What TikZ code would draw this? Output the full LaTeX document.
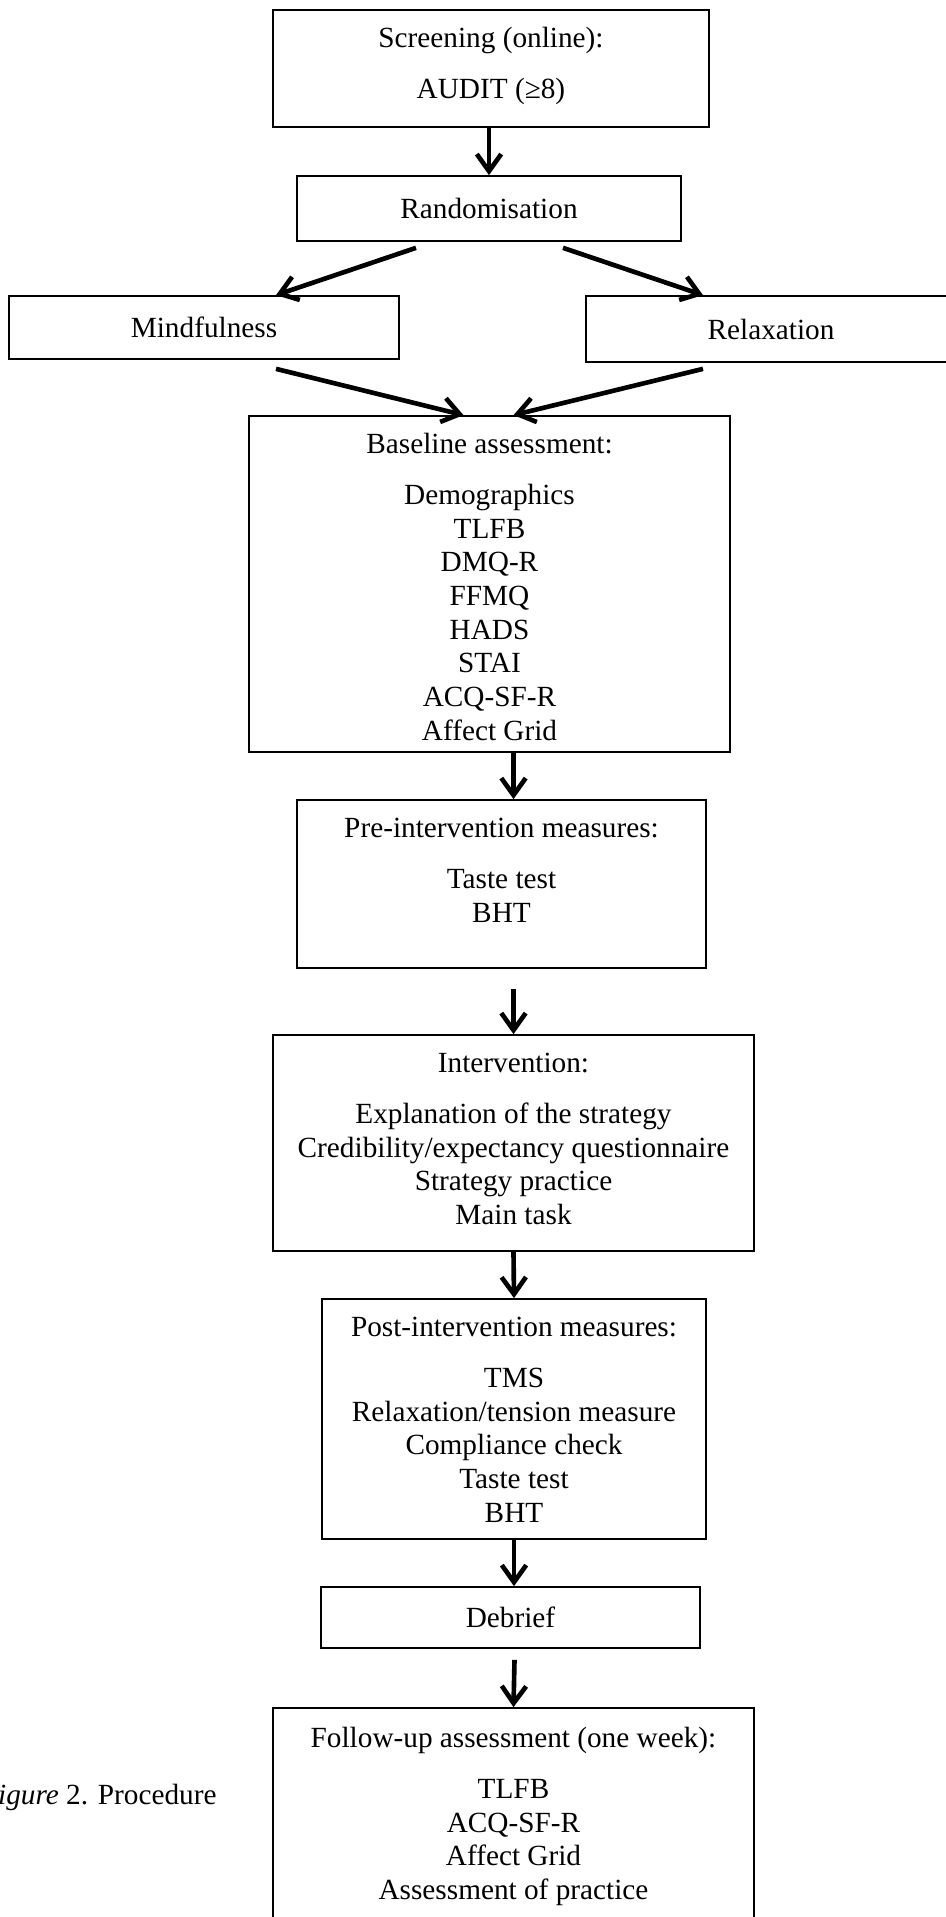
\documentclass[tikz,border=0pt]{standalone}
\usepackage{fontspec}
\setmainfont{Liberation Serif}
\usetikzlibrary{arrows.meta,fit}

\begin{document}
\begin{tikzpicture}[x=0.41pt, y=-0.41pt,
    box/.style={draw, line width=0.7pt, inner sep=0pt},
    txt/.style={align=center, inner sep=0pt, font=\fontsize{12}{13.8}\selectfont},
    arr/.style={line width=1.9pt, -{Straight Barb[length=7pt, width=10pt]}}]


          \useasboundingbox (0,0) rectangle (946,1917);

          \node[box, fit={(273,10) (709,127)}] (screen) {};
          \node[box, fit={(297,176) (681,241)}] (rand) {};
          \node[box, fit={(9,296) (399,359)}] (mind) {};
          \node[box, fit={(586,296) (956,362)}] (relax) {};
          \node[box, fit={(249,416) (730,752)}] (base) {};
          \node[box, fit={(297,800) (706,968)}] (pre) {};
          \node[box, fit={(273,1035) (754,1251)}] (int) {};
          \node[box, fit={(322,1299) (706,1539)}] (post) {};
          \node[box, fit={(321,1587) (700,1648)}] (deb) {};
          \node[box, fit={(273,1708) (754,1925)}] (fol) {};

          \node[txt, anchor=north] (screen-t) at (491,27) {Screening (online):\\[7pt] AUDIT (≥8)};
          \node[txt] (rand-t) at (rand.center) {Randomisation};
          \node[txt] (mind-t) at (mind.center) {Mindfulness};
          \node[txt] (relax-t) at (relax.center) {Relaxation};
          \node[txt, anchor=north] (base-t) at (489.5,433) {Baseline assessment:\\[7pt] Demographics\\ TLFB\\ DMQ-R\\ FFMQ\\ HADS\\ STAI\\ ACQ-SF-R\\ Affect Grid};
          \node[txt, anchor=north] (pre-t) at (501.5,818) {Pre-intervention measures:\\[7pt] Taste test\\ BHT};
          \node[txt, anchor=north] (int-t) at (513.5,1053) {Intervention:\\[7pt] Explanation of the strategy\\ Credibility/expectancy questionnaire\\ Strategy practice\\ Main task};
          \node[txt, anchor=north] (post-t) at (514,1317) {Post-intervention measures:\\[7pt] TMS\\ Relaxation/tension measure\\ Compliance check\\ Taste test\\ BHT};
          \node[txt] (deb-t) at (deb.center) {Debrief};
          \node[txt, anchor=north] (fol-t) at (513.5,1727) {Follow-up assessment (one week):\\[7pt] TLFB\\ ACQ-SF-R\\ Affect Grid\\ Assessment of practice};

          \node[txt, anchor=base east] (cap) at (217,1804) {\textit{Figure} 2. Procedure};

          \draw[arr] (screen.south -| rand.north) -- (rand.north);
          \draw[arr] ([shift={(-73,6)}]rand.south) -- ([shift={(72,0)}]mind.north);
          \draw[arr] ([shift={(74,6)}]rand.south) -- ([shift={(-68,0)}]relax.north);
          \draw[arr] ([shift={(72,9)}]mind.south) -- ([shift={(-26,0)}]base.north);
          \draw[arr] ([shift={(-68,6)}]relax.south) -- ([shift={(24,0)}]base.north);
          \draw[arr] ([shift={(24,0)}]base.south) -- ([shift={(12,0)}]pre.north);
          \draw[arr] ([shift={(12,20)}]pre.south) -- (int.north);
          \draw[arr] (int.south) -- (post.north);
          \draw[arr] (post.south) -- (post.south |- deb.north);
          \draw[arr] ([shift={(4,11)}]deb.south) -- (fol.north);
        \end{tikzpicture}
\end{document}
